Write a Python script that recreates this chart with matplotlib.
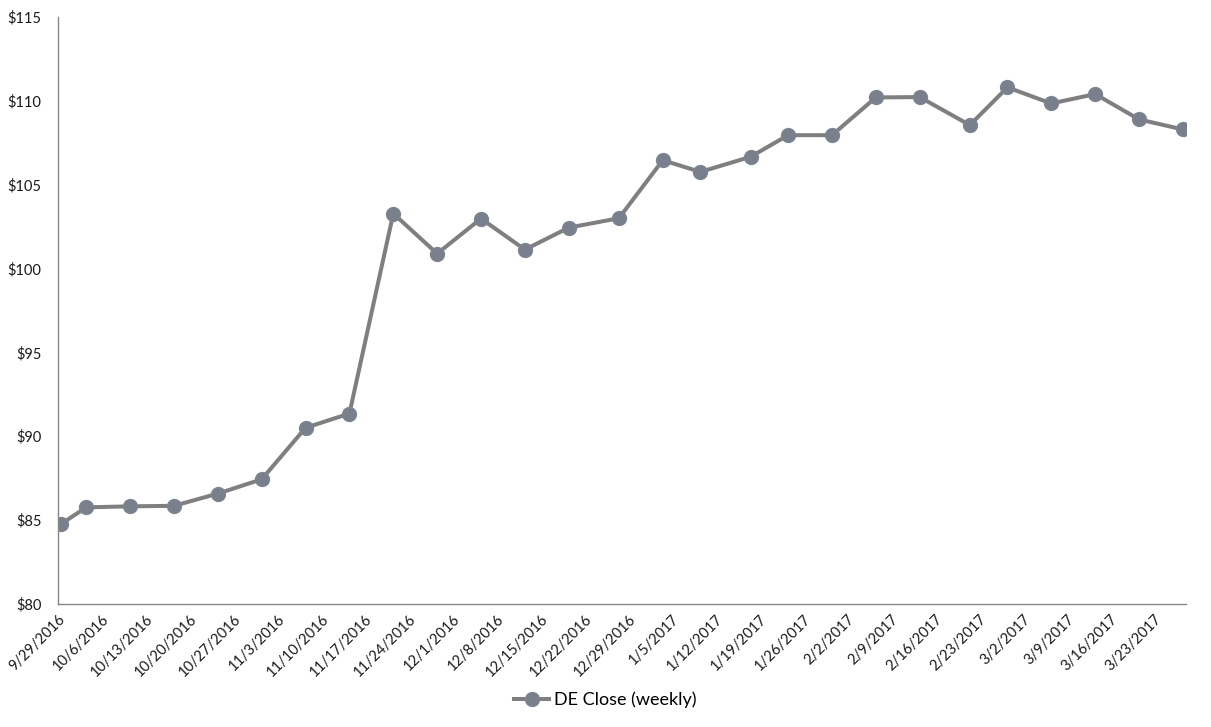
import datetime as dt
import matplotlib
matplotlib.use("Agg")
import matplotlib.pyplot as plt
import matplotlib.dates as mdates

# weekly closes (first trading day of each week)
dates = ["2016-09-29", "2016-10-03", "2016-10-10", "2016-10-17", "2016-10-24",
         "2016-10-31", "2016-11-07", "2016-11-14", "2016-11-21", "2016-11-28",
         "2016-12-05", "2016-12-12", "2016-12-19", "2016-12-27", "2017-01-03",
         "2017-01-09", "2017-01-17", "2017-01-23", "2017-01-30", "2017-02-06",
         "2017-02-13", "2017-02-21", "2017-02-27", "2017-03-06", "2017-03-13",
         "2017-03-20", "2017-03-27"]
close = [84.77, 85.76, 85.82, 85.85, 86.58, 87.43, 90.50, 91.35, 103.27, 100.88,
         102.97, 101.12, 102.43, 102.99, 106.45, 105.75, 106.65, 107.94, 107.94,
         110.19, 110.21, 108.54, 110.79, 109.83, 110.39, 108.88, 108.28]

tick_labels = ["9/29/2016", "10/6/2016", "10/13/2016", "10/20/2016", "10/27/2016",
               "11/3/2016", "11/10/2016", "11/17/2016", "11/24/2016", "12/1/2016",
               "12/8/2016", "12/15/2016", "12/22/2016", "12/29/2016", "1/5/2017",
               "1/12/2017", "1/19/2017", "1/26/2017", "2/2/2017", "2/9/2017",
               "2/16/2017", "2/23/2017", "3/2/2017", "3/9/2017", "3/16/2017",
               "3/23/2017"]
y_ticks = [80, 85, 90, 95, 100, 105, 110, 115]

plt.rcParams['font.family'] = ['Lato', 'DejaVu Sans']

x = [mdates.date2num(dt.datetime.strptime(d, "%Y-%m-%d")) for d in dates]
tick_x = [mdates.date2num(dt.datetime.strptime(t, "%m/%d/%Y")) - 0.5 for t in tick_labels]

fig = plt.figure(figsize=(12.11, 7.27), dpi=100)
ax = fig.add_axes([0.0479, 0.1692, 0.9315, 0.8078])

ax.plot(x, close, color='#7f7f7f', lw=2.9, marker='o', markersize=10,
        markerfacecolor='#79808b', markeredgecolor='#7d8593', markeredgewidth=1,
        label='DE Close (weekly)')

ax.set_xlim(x[0] - 0.5, x[-1] + 0.5)
ax.set_ylim(80, 115)
ax.set_yticks(y_ticks)
ax.set_yticklabels(['$%d' % v for v in y_ticks])
ax.set_xticks(tick_x)
ax.set_xticklabels(tick_labels, rotation=45, ha='right', va='top',
                   rotation_mode='anchor')

for s in ['top', 'right']:
    ax.spines[s].set_visible(False)
for s in ['left', 'bottom']:
    ax.spines[s].set_color('#868686')
    ax.spines[s].set_linewidth(1.0)
ax.tick_params(axis='y', length=0, pad=12, labelsize=10.5, labelcolor='#1a1a1a')
ax.tick_params(axis='x', length=0, pad=6, labelsize=10.5, labelcolor='#1a1a1a')

fig.legend(loc='center', bbox_to_anchor=(0.5, 0.037), frameon=False,
           fontsize=13, handlelength=1.9, handletextpad=0.3)

fig.savefig('out.png', dpi=100)
